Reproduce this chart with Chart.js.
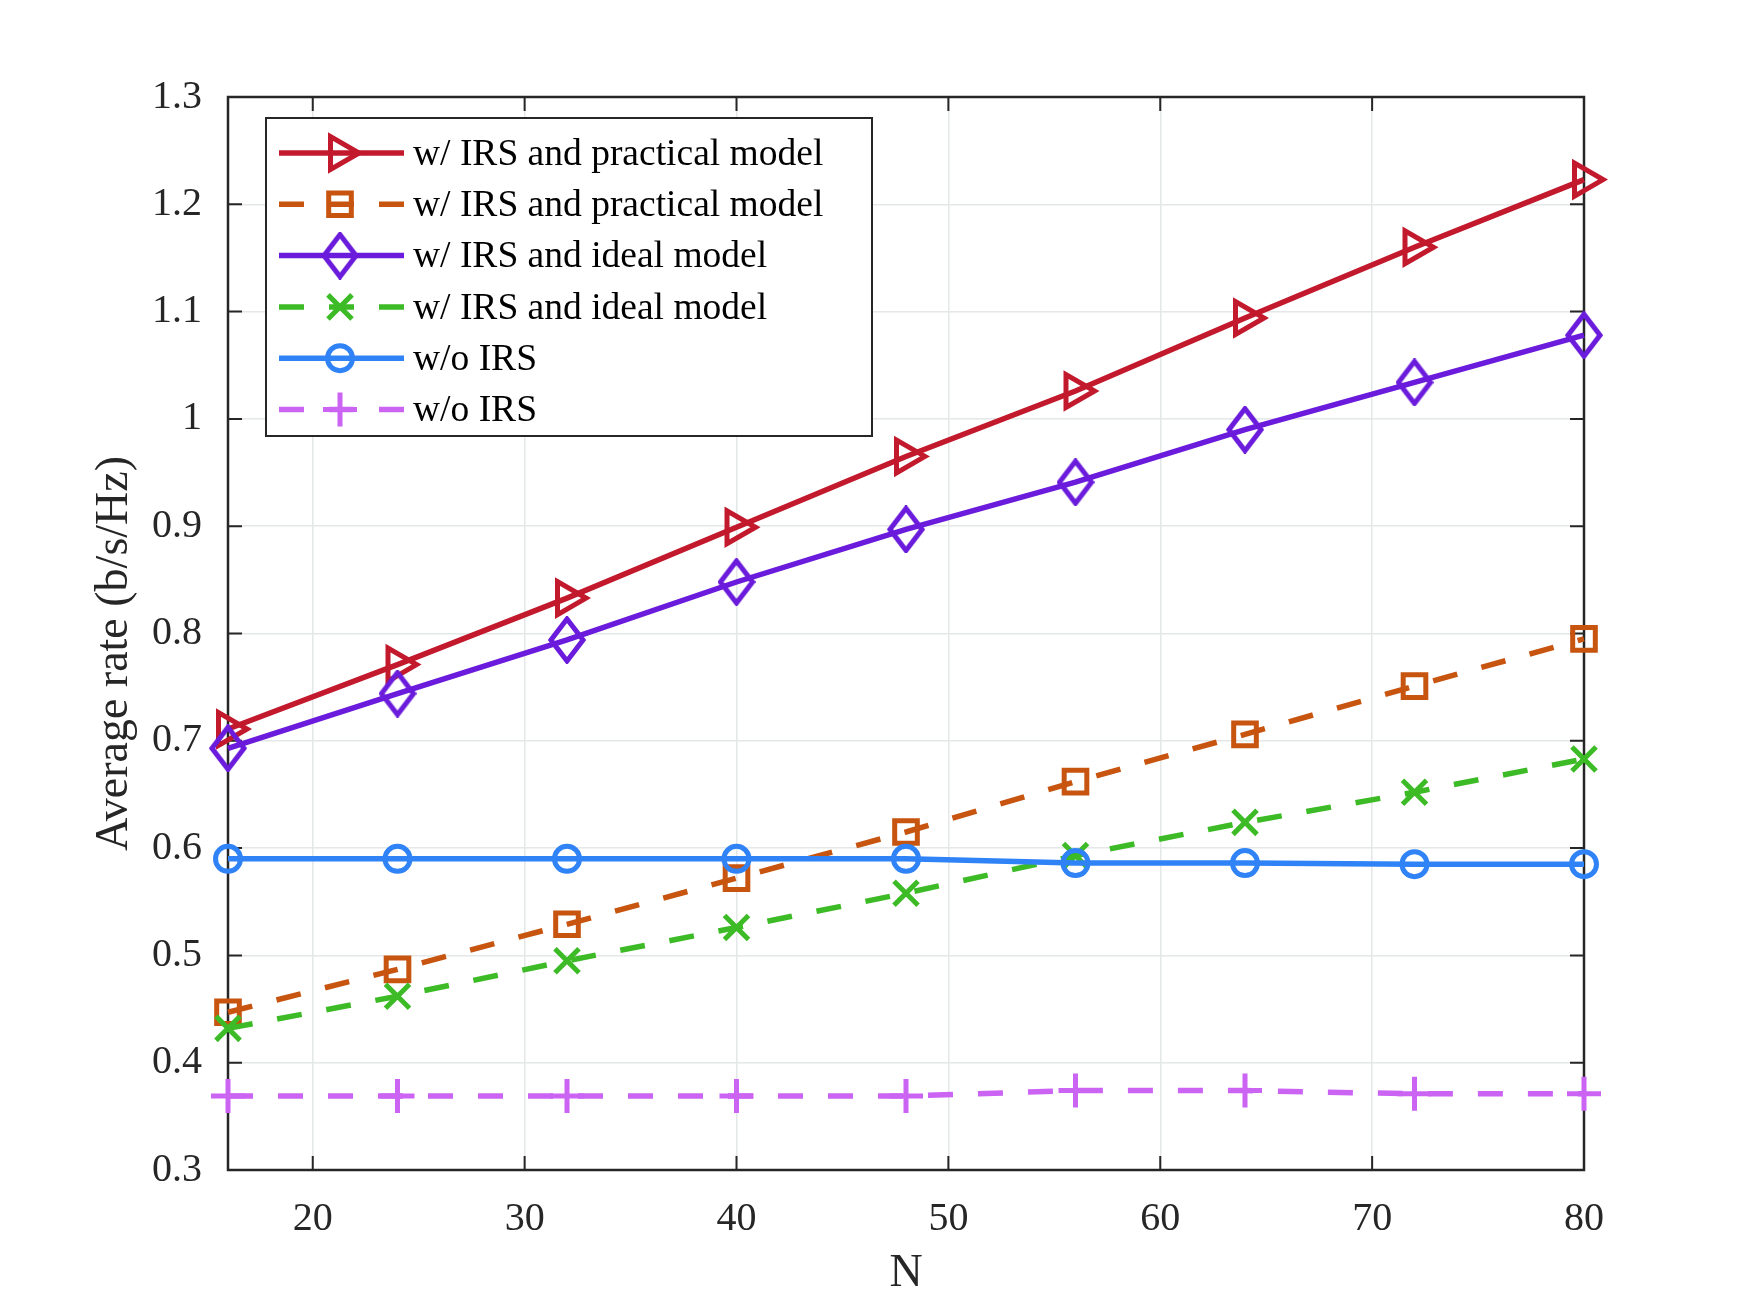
<!DOCTYPE html>
<html>
<head>
<meta charset="utf-8">
<script src="https://cdn.jsdelivr.net/npm/chart.js@4.4.1/dist/chart.umd.min.js"></script>
<style>
  body { margin: 0; background: #fff; }
  canvas { display: block; }
</style>
</head>
<body>
<canvas id="rate" width="1750" height="1312"></canvas>
<script>
// data
const nValues = [16, 24, 32, 40, 48, 56, 64, 72, 80];
const irsPracticalA = [0.711, 0.771, 0.833, 0.899, 0.965, 1.026, 1.094, 1.160, 1.223];
const irsPracticalB = [0.447, 0.487, 0.529, 0.572, 0.615, 0.662, 0.706, 0.751, 0.795];
const irsIdealA = [0.693, 0.744, 0.794, 0.848, 0.897, 0.941, 0.990, 1.034, 1.078];
const irsIdealB = [0.432, 0.462, 0.495, 0.526, 0.558, 0.593, 0.624, 0.652, 0.683];
const noIrsA = [0.590, 0.590, 0.590, 0.590, 0.590, 0.586, 0.586, 0.585, 0.585];
const noIrsB = [0.369, 0.369, 0.369, 0.369, 0.369, 0.374, 0.374, 0.371, 0.371];

const seriesLabels = [
  'w/ IRS and practical model',
  'w/ IRS and practical model',
  'w/ IRS and ideal model',
  'w/ IRS and ideal model',
  'w/o IRS',
  'w/o IRS'
];

const xTicks = [20, 30, 40, 50, 60, 70, 80];
const yTicks = [0.3, 0.4, 0.5, 0.6, 0.7, 0.8, 0.9, 1.0, 1.1, 1.2, 1.3];
const yTickLabels = ['0.3', '0.4', '0.5', '0.6', '0.7', '0.8', '0.9', '1', '1.1', '1.2', '1.3'];
const xTitle = 'N';
const yTitle = 'Average rate (b/s/Hz)';

const axisColor = '#262626';
const gridColor = '#e4e8e8';
const fontName = '"Liberation Serif", "Times New Roman", serif';

// tall hollow diamond marker
function diamondMarker(color) {
  const c = document.createElement('canvas');
  c.width = 38; c.height = 48;
  const g = c.getContext('2d');
  g.strokeStyle = color;
  g.lineWidth = 5;
  g.lineJoin = 'miter';
  g.beginPath();
  g.moveTo(19, 3); g.lineTo(35, 24); g.lineTo(19, 45); g.lineTo(3, 24);
  g.closePath();
  g.stroke();
  return c;
}

function series(label, values, color, style, dashed, radius, extra) {
  return Object.assign({
    label: label,
    data: nValues.map((n, i) => ({x: n, y: values[i]})),
    borderColor: color,
    backgroundColor: 'rgba(0,0,0,0)',
    borderWidth: 5.5,
    borderDash: dashed ? [25, 25] : [],
    borderCapStyle: 'butt',
    pointStyle: style,
    pointRadius: radius,
    pointHoverRadius: radius,
    pointBorderWidth: 5,
    pointBorderColor: color,
    pointBackgroundColor: 'rgba(0,0,0,0)',
    tension: 0,
    clip: false
  }, extra || {});
}

const datasets = [
  series(seriesLabels[0], irsPracticalA, '#c2192d', 'triangle', false, 19, {pointRotation: 90}),
  series(seriesLabels[1], irsPracticalB, '#c7540f', 'rect', true, 16),
  series(seriesLabels[2], irsIdealA, '#6a1bdb', diamondMarker('#6a1bdb'), false, 19),
  series(seriesLabels[3], irsIdealB, '#3cbb26', 'crossRot', true, 17),
  series(seriesLabels[4], noIrsA, '#2f83f6', 'circle', false, 12.5),
  series(seriesLabels[5], noIrsB, '#cb63f3', 'cross', true, 17)
];
// later series on top, like the original plot
datasets.forEach((d, i) => { d.order = datasets.length - i; });

const frame = {
  id: 'frame',
  beforeDatasetsDraw(chart) {
    const {ctx, chartArea: a, scales: {x, y}} = chart;
    ctx.save();
    ctx.strokeStyle = axisColor;
    ctx.lineWidth = 2;
    ctx.beginPath();
    xTicks.forEach(v => {
      const px = x.getPixelForValue(v);
      ctx.moveTo(px, a.bottom); ctx.lineTo(px, a.bottom - 14);
      ctx.moveTo(px, a.top); ctx.lineTo(px, a.top + 14);
    });
    yTicks.forEach(v => {
      const py = y.getPixelForValue(v);
      ctx.moveTo(a.left, py); ctx.lineTo(a.left + 14, py);
      ctx.moveTo(a.right, py); ctx.lineTo(a.right - 14, py);
    });
    ctx.stroke();
    ctx.lineWidth = 2.5;
    ctx.strokeRect(a.left, a.top, a.width, a.height);

    // y title, centred a bit below the axis middle as in the original
    ctx.fillStyle = axisColor;
    ctx.font = '46px ' + fontName;
    ctx.textAlign = 'center';
    ctx.textBaseline = 'middle';
    ctx.translate(115, (a.top + a.bottom) / 2 + 20);
    ctx.rotate(-Math.PI / 2);
    ctx.fillText(yTitle, 0, 0);
    ctx.restore();
  }
};

const boxLegend = {
  id: 'boxLegend',
  afterDatasetsDraw(chart) {
    const {ctx, chartArea: a} = chart;
    const left = a.left + 38, top = a.top + 21, w = 606, h = 318;
    ctx.save();
    ctx.fillStyle = '#fff';
    ctx.fillRect(left, top, w, h);
    ctx.strokeStyle = axisColor;
    ctx.lineWidth = 2;
    ctx.strokeRect(left, top, w, h);
    chart.data.datasets.forEach((d, i) => {
      const cy = top + 35 + i * 51.3;
      ctx.save();
      ctx.strokeStyle = d.borderColor;
      ctx.lineWidth = d.borderWidth;
      ctx.lineCap = 'butt';
      ctx.setLineDash(d.borderDash);
      ctx.beginPath();
      ctx.moveTo(left + 13, cy);
      ctx.lineTo(left + 138, cy);
      ctx.stroke();
      ctx.setLineDash([]);
      ctx.lineWidth = d.pointBorderWidth;
      ctx.fillStyle = 'rgba(0,0,0,0)';
      Chart.helpers.drawPoint(ctx, {
        pointStyle: d.pointStyle,
        radius: d.pointRadius,
        rotation: d.pointRotation || 0,
        borderWidth: d.pointBorderWidth
      }, left + 74, cy);
      ctx.restore();
      ctx.fillStyle = '#000';
      ctx.font = '37.5px ' + fontName;
      ctx.textBaseline = 'middle';
      ctx.textAlign = 'left';
      ctx.fillText(d.label, left + 147, cy + 2);
    });
    ctx.restore();
  }
};

new Chart(document.getElementById('rate'), {
  type: 'line',
  data: {datasets: datasets},
  options: {
    responsive: false,
    animation: false,
    devicePixelRatio: 1,
    layout: {padding: {top: 97, right: 166, left: 0, bottom: 0}},
    plugins: {legend: {display: false}, tooltip: {enabled: false}},
    scales: {
      x: {
        type: 'linear',
        min: 16,
        max: 80,
        afterBuildTicks: s => { s.ticks = xTicks.map(v => ({value: v})); },
        afterFit: s => { s.height = 142; },
        grid: {color: gridColor, lineWidth: 1.5, drawTicks: false},
        border: {display: false},
        ticks: {
          color: axisColor,
          padding: 25,
          maxRotation: 0,
          font: {family: fontName, size: 40}
        },
        title: {
          display: true,
          text: xTitle,
          color: axisColor,
          padding: {top: 0, bottom: 10},
          font: {family: fontName, size: 46}
        }
      },
      y: {
        type: 'linear',
        min: 0.3,
        max: 1.3,
        afterBuildTicks: s => { s.ticks = yTicks.map(v => ({value: v})); },
        afterFit: s => { s.width = 228; },
        grid: {color: gridColor, lineWidth: 1.5, drawTicks: false},
        border: {display: false},
        ticks: {
          color: axisColor,
          padding: 26,
          font: {family: fontName, size: 40},
          callback: (v, i) => yTickLabels[i]
        },
        title: {display: false}
      }
    }
  },
  plugins: [frame, boxLegend]
});
</script>
</body>
</html>
